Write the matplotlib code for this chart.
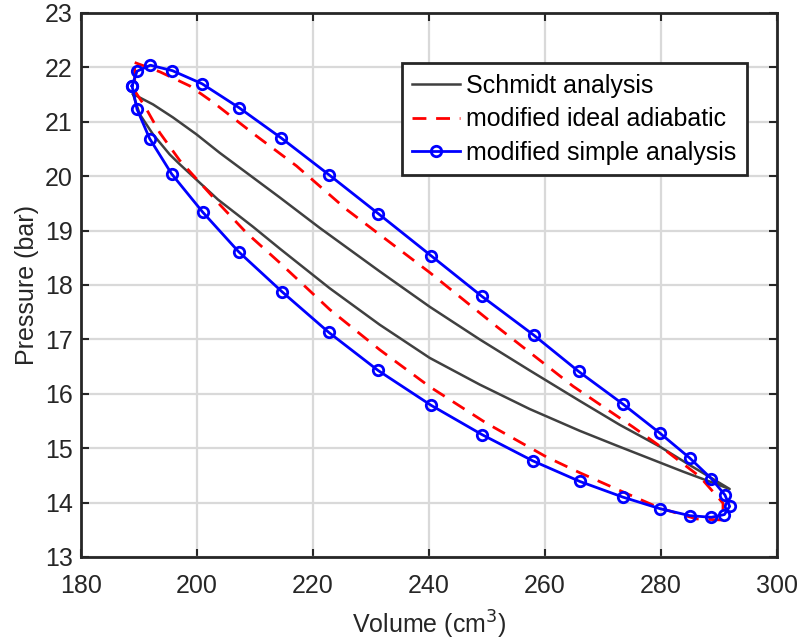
import matplotlib
matplotlib.use('Agg')
import matplotlib.pyplot as plt

# Schmidt analysis loop (upper branch left->right, lower branch right->left)
schmidt_v = [188.97, 192.41, 195.86, 199.90, 203.91, 209.09, 214.26, 221.16, 231.50, 240.12,
             248.74, 257.36, 265.98, 272.88, 279.78, 284.95, 288.40, 291.84,
             283.79, 272.31, 265.98, 257.36, 248.74, 240.12, 231.50, 222.88, 214.26,
             209.66, 203.62, 197.02, 195.29, 192.41, 190.12, 188.97]
schmidt_p = [21.51, 21.32, 21.08, 20.77, 20.43, 20.02, 19.61, 19.05, 18.25, 17.60,
             17.00, 16.43, 15.87, 15.43, 15.03, 14.69, 14.47, 14.25,
             14.57, 15.05, 15.32, 15.72, 16.17, 16.66, 17.27, 17.94, 18.67,
             19.07, 19.57, 20.22, 20.40, 20.77, 21.14, 21.51]

# modified ideal adiabatic loop
adiab_v = [189.26, 193.57, 198.74, 202.76, 210.24, 217.14, 225.76, 240.12, 251.62, 264.83,
           275.17, 279.78, 286.67, 290.69, 290.69, 286.10, 279.78, 272.31, 265.98,
           260.24, 249.90, 240.12, 231.50, 222.88, 214.26, 208.52, 203.91, 201.03,
           197.02, 193.57, 190.98, 189.26, 189.26]
adiab_p = [22.09, 21.92, 21.66, 21.36, 20.74, 20.19, 19.39, 18.23, 17.24, 16.14,
           15.39, 15.04, 14.48, 13.99, 13.68, 13.70, 13.90, 14.25, 14.55,
           14.84, 15.46, 16.13, 16.81, 17.55, 18.41, 18.96, 19.48, 19.82,
           20.29, 20.80, 21.29, 21.57, 22.09]

# modified simple analysis loop (markers)
simple_v = [188.80, 189.66, 191.97, 195.76, 200.86, 207.24, 214.55, 222.71, 231.28, 240.34,
            249.14, 258.05, 265.81, 273.45, 279.78, 284.95, 288.69, 291.03, 291.84, 290.93,
            288.69, 284.95, 279.78, 273.45, 265.98, 257.85, 249.14, 240.34, 231.21, 222.71,
            214.72, 207.19, 200.98, 195.64, 191.84, 189.66, 188.80]
simple_p = [21.66, 21.93, 22.04, 21.94, 21.70, 21.26, 20.70, 20.03, 19.31, 18.54,
            17.79, 17.08, 16.41, 15.81, 15.28, 14.82, 14.44, 14.14, 13.93, 13.78,
            13.73, 13.76, 13.89, 14.10, 14.39, 14.77, 15.25, 15.79, 16.43, 17.13,
            17.87, 18.61, 19.34, 20.04, 20.69, 21.23, 21.66]

xticks = [180, 200, 220, 240, 260, 280, 300]
yticks = [13, 14, 15, 16, 17, 18, 19, 20, 21, 22, 23]

plt.rcParams['font.family'] = ['Liberation Sans', 'DejaVu Sans']
plt.rcParams['font.size'] = 18
axcol = '#262626'

fig = plt.figure(figsize=(8.01, 6.41), dpi=100)
ax = fig.add_axes([81 / 801, 84 / 641, 696 / 801, 544 / 641])

ax.plot(schmidt_v, schmidt_p, color='#404040', lw=1.8, label='Schmidt analysis')
ax.plot(adiab_v, adiab_p, color='red', lw=2.0, dashes=(5, 3.5),
        label='modified ideal adiabatic')
ax.plot(simple_v, simple_p, color='blue', lw=2.0, marker='o', ms=7.5,
        mfc='none', mew=2.0, label='modified simple analysis')

ax.set_xlim(180, 300)
ax.set_ylim(13, 23)
ax.set_xticks(xticks)
ax.set_yticks(yticks)
ax.grid(True, color='#d9d9d9', lw=1.6)
ax.set_axisbelow(True)
ax.tick_params(direction='in', length=5.5, width=1.5, colors=axcol,
               top=True, right=True, labelsize=18)
ax.tick_params(axis='x', pad=12)
ax.tick_params(axis='y', pad=6)
for s in ax.spines.values():
    s.set_linewidth(2)
    s.set_color(axcol)

ax.set_xlabel('Volume (cm$^3$)', color=axcol, fontsize=18, labelpad=8)
ax.set_ylabel('Pressure (bar)', color=axcol, fontsize=18, labelpad=4)

leg = ax.legend(loc='upper right', bbox_to_anchor=(746.7 / 801, 1 - 63.3 / 641),
                bbox_transform=fig.transFigure, borderaxespad=0, numpoints=1,
                fancybox=False, framealpha=1, edgecolor=axcol, fontsize=18,
                handlelength=1.9, handletextpad=0.25, labelspacing=0.38,
                borderpad=0.42)
leg.get_frame().set_linewidth(2)

fig.savefig('out.png', dpi=100)
